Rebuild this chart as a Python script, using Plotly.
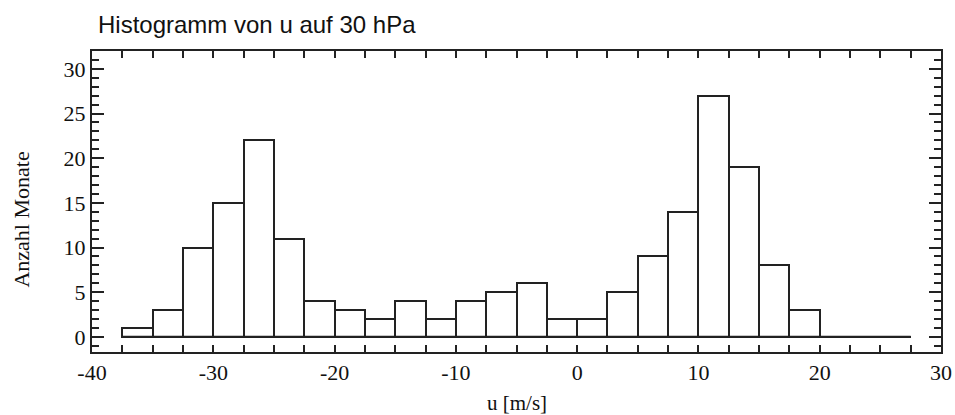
import plotly.graph_objects as go

# Bin centres (bin width 2.5 m/s) and counts
bin_centers = [-36.25, -33.75, -31.25, -28.75, -26.25, -23.75, -21.25, -18.75,
               -16.25, -13.75, -11.25, -8.75, -6.25, -3.75, -1.25, 1.25,
               3.75, 6.25, 8.75, 11.25, 13.75, 16.25, 18.75, 21.25, 23.75, 26.25]
counts = [1, 3, 10, 15, 22, 11, 4, 3, 2, 4, 2, 4, 5, 6, 2, 2,
          5, 9, 14, 27, 19, 8, 3, 0, 0, 0]
bin_width = 2.5
baseline_x = [-37.5, 27.5]
baseline_y = [0, 0]
neg_x_labels = ["-40", "-30", "-20", "-10"]

SERIF = "Liberation Serif, Times New Roman, serif"
SANS = "Liberation Sans, Arial, sans-serif"
INK = "#222"

fig = go.Figure()
fig.add_trace(go.Scatter(
    x=baseline_x, y=baseline_y, mode="lines",
    line=dict(color=INK, width=2), hoverinfo="skip", showlegend=False))
fig.add_trace(go.Bar(
    x=bin_centers, y=counts, width=bin_width,
    marker=dict(color="white", line=dict(color=INK, width=2)),
    showlegend=False))

fig.update_layout(
    width=955, height=415,
    margin=dict(l=92, r=14, t=51, b=63, autoexpand=False),
    paper_bgcolor="white", plot_bgcolor="white",
    font=dict(family=SERIF, size=22, color="#111"),
    bargap=0,
    annotations=[
        dict(text="Histogramm von u auf 30 hPa", xref="paper", yref="paper",
             x=0.005, y=1.0, yshift=27, xanchor="left", yanchor="middle",
             showarrow=False, font=dict(family=SANS, size=24, color="#111")),
        dict(text="Anzahl Monate", xref="paper", yref="paper",
             x=0, xshift=-70, y=0.44, textangle=-90, xanchor="center",
             yanchor="middle", showarrow=False,
             font=dict(family=SERIF, size=22, color="#111")),
        dict(text="u [m/s]", xref="paper", yref="paper",
             x=0.5, y=0, yshift=-51, xanchor="center", yanchor="middle",
             showarrow=False, font=dict(family=SERIF, size=21, color="#111")),
    ],
)

fig.update_xaxes(
    range=[-40, 30], tickmode="linear", tick0=0, dtick=10,
    labelalias={"\u2212" + s[1:]: s for s in neg_x_labels},
    tickfont=dict(family=SERIF, size=22, color="#111"),
    ticks="inside", ticklen=7, tickwidth=2, tickcolor=INK,
    minor=dict(dtick=2.5, tick0=0, ticks="inside", ticklen=7, tickwidth=2,
               tickcolor=INK, showgrid=False),
    showline=True, linecolor=INK, linewidth=2, mirror="allticks",
    showgrid=False, zeroline=False, automargin=False,
)
fig.update_yaxes(
    range=[-1.7, 32], tickmode="linear", tick0=0, dtick=5,
    tickfont=dict(family=SERIF, size=22, color="#111"),
    ticks="inside", ticklen=12, tickwidth=2, tickcolor=INK,
    minor=dict(dtick=1, tick0=0, ticks="inside", ticklen=7, tickwidth=2,
               tickcolor=INK, showgrid=False),
    showline=True, linecolor=INK, linewidth=2, mirror="allticks",
    showgrid=False, zeroline=False, automargin=False,
)

fig.write_html("out.html")
